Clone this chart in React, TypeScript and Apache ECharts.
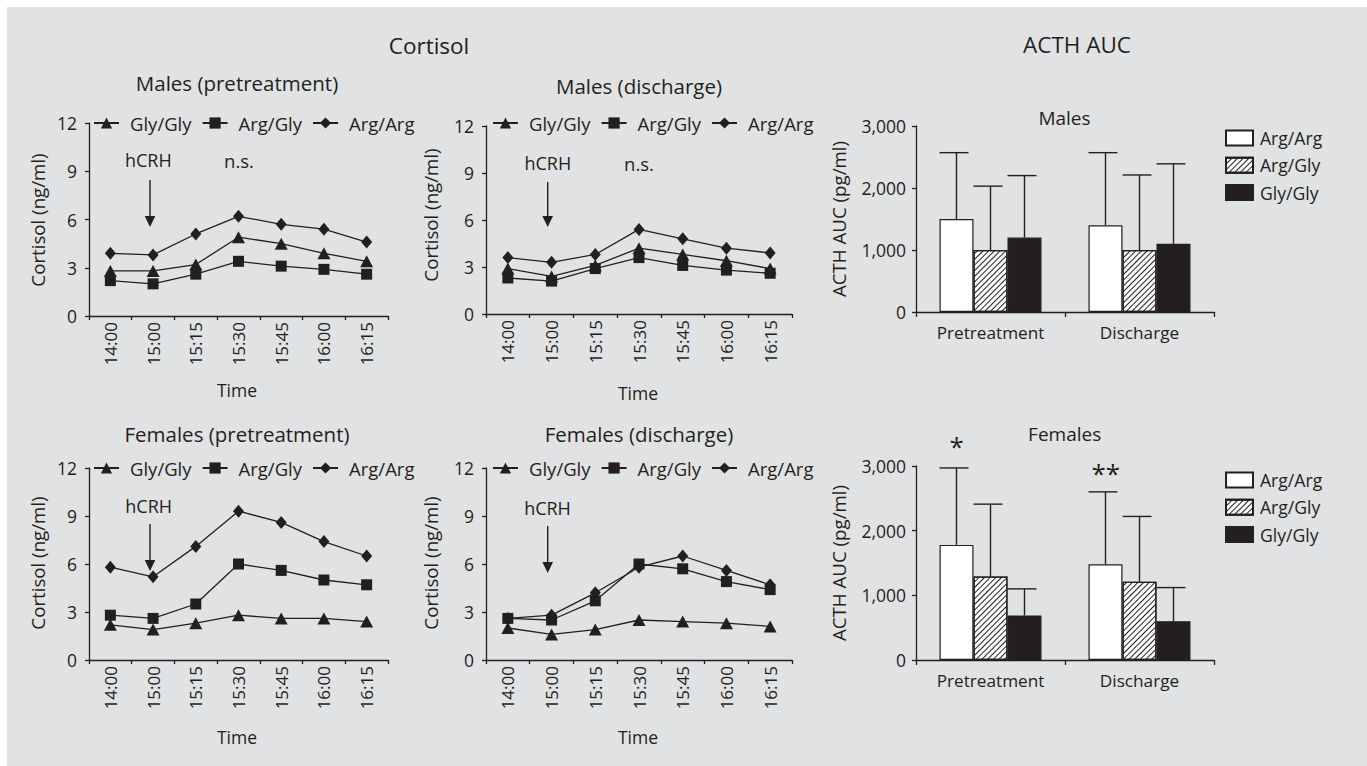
import React, { useEffect, useRef } from 'react';
import * as echarts from 'echarts';

// ---------- data ----------
const times = ['14:00', '15:00', '15:15', '15:30', '15:45', '16:00', '16:15'];
const genotypes = ['Gly/Gly', 'Arg/Gly', 'Arg/Arg'];

const malesPreGlyGly = [2.8, 2.8, 3.2, 4.9, 4.5, 3.9, 3.4];
const malesPreArgGly = [2.2, 2.0, 2.6, 3.4, 3.1, 2.9, 2.6];
const malesPreArgArg = [3.9, 3.8, 5.1, 6.2, 5.7, 5.4, 4.6];

const malesDisGlyGly = [2.9, 2.4, 3.1, 4.2, 3.8, 3.4, 2.9];
const malesDisArgGly = [2.3, 2.1, 2.9, 3.6, 3.1, 2.8, 2.6];
const malesDisArgArg = [3.6, 3.3, 3.8, 5.4, 4.8, 4.2, 3.9];

const femalesPreGlyGly = [2.2, 1.9, 2.3, 2.8, 2.6, 2.6, 2.4];
const femalesPreArgGly = [2.8, 2.6, 3.5, 6.0, 5.6, 5.0, 4.7];
const femalesPreArgArg = [5.8, 5.2, 7.1, 9.3, 8.6, 7.4, 6.5];

const femalesDisGlyGly = [2.0, 1.6, 1.9, 2.5, 2.4, 2.3, 2.1];
const femalesDisArgGly = [2.6, 2.5, 3.7, 6.0, 5.7, 4.9, 4.4];
const femalesDisArgArg = [2.6, 2.8, 4.2, 5.8, 6.5, 5.6, 4.7];

const cortisolTicks = [0, 3, 6, 9, 12];

const acthGroups = ['Pretreatment', 'Discharge'];
const barGenotypes = ['Arg/Arg', 'Arg/Gly', 'Gly/Gly'];

const malesActhArgArg = [1500, 1400];
const malesActhArgArgUpper = [2570, 2570];
const malesActhArgGly = [1000, 1000];
const malesActhArgGlyUpper = [2030, 2210];
const malesActhGlyGly = [1200, 1100];
const malesActhGlyGlyUpper = [2200, 2390];

const femalesActhArgArg = [1780, 1480];
const femalesActhArgArgUpper = [2970, 2600];
const femalesActhArgGly = [1290, 1210];
const femalesActhArgGlyUpper = [2410, 2220];
const femalesActhGlyGly = [690, 600];
const femalesActhGlyGlyUpper = [1100, 1120];

const acthTicks = [0, 1000, 2000, 3000];

// ---------- styling ----------
const INK = '#231f20';
const FONT = "'Open Sans', sans-serif";
const BAR_W = 34;

const lineGrids = [
  { left: 89, top: 123, width: 299, height: 193 },
  { left: 486, top: 126, width: 306, height: 188 },
  { left: 89, top: 468, width: 299, height: 192 },
  { left: 486, top: 468, width: 306, height: 192 },
];
const barGrids = [
  { left: 916, top: 126, width: 298, height: 186 },
  { left: 916, top: 466, width: 298, height: 194 },
];

const symbols: Record<string, any> = {
  'Gly/Gly': { symbol: 'triangle', symbolSize: [13, 12] },
  'Arg/Gly': { symbol: 'rect', symbolSize: 11 },
  'Arg/Arg': { symbol: 'diamond', symbolSize: [11, 13] },
};

function buildOption() {
  const grids: any[] = [];
  const xAxes: any[] = [];
  const yAxes: any[] = [];
  const series: any[] = [];
  const legends: any[] = [];

  const lineData = [
    [malesPreGlyGly, malesPreArgGly, malesPreArgArg],
    [malesDisGlyGly, malesDisArgGly, malesDisArgArg],
    [femalesPreGlyGly, femalesPreArgGly, femalesPreArgArg],
    [femalesDisGlyGly, femalesDisArgGly, femalesDisArgArg],
  ];
  const legendLeft = [93, 492, 93, 492];
  const legendTop = [113, 113, 458, 458];

  lineGrids.forEach((g, i) => {
    grids.push({ ...g, containLabel: false, outerBoundsMode: 'none' });
    xAxes.push({
      type: 'category',
      gridIndex: i,
      data: times,
      boundaryGap: true,
      axisLine: { lineStyle: { color: INK, width: 1.3 } },
      axisTick: { show: true, length: 4, lineStyle: { color: INK, width: 1.3 } },
      axisLabel: { rotate: 90, margin: 6, color: INK, fontSize: 17, fontFamily: FONT },
      splitLine: { show: false },
    });
    yAxes.push({
      type: 'value',
      gridIndex: i,
      min: cortisolTicks[0],
      max: cortisolTicks[cortisolTicks.length - 1],
      interval: 3,
      axisLine: { show: true, lineStyle: { color: INK, width: 1.3 } },
      axisTick: { show: true, length: 4, lineStyle: { color: INK, width: 1.3 } },
      axisLabel: { margin: 12, color: INK, fontSize: 17.5, fontFamily: FONT },
      splitLine: { show: false },
    });
    genotypes.forEach((name, k) => {
      series.push({
        type: 'line',
        name,
        xAxisIndex: i,
        yAxisIndex: i,
        data: lineData[i][k],
        ...symbols[name],
        showSymbol: true,
        lineStyle: { color: INK, width: 1.3 },
        itemStyle: { color: INK },
        silent: true,
      });
    });
    legends.push({
      left: legendLeft[i],
      top: legendTop[i],
      padding: 0,
      orient: 'horizontal',
      itemWidth: 25,
      itemHeight: 14,
      itemGap: 10,
      data: genotypes,
      selectedMode: false,
      textStyle: { color: INK, fontSize: 18.5, fontFamily: FONT, lineHeight: 20, padding: [0, 0, 0, 6] },
    });
  });

  const hatch = {
    symbol: 'rect',
    symbolSize: 1,
    dashArrayX: [1, 0],
    dashArrayY: [1, 3],
    rotation: -Math.PI / 4,
    color: INK,
  };
  const barStyles: Record<string, any> = {
    'Arg/Arg': { color: '#ffffff', borderColor: INK, borderWidth: 1.2 },
    'Arg/Gly': { color: '#ffffff', borderColor: INK, borderWidth: 1.2, decal: hatch },
    'Gly/Gly': { color: INK, borderColor: INK, borderWidth: 1.2 },
  };
  const barData = [
    [
      [malesActhArgArg, malesActhArgArgUpper],
      [malesActhArgGly, malesActhArgGlyUpper],
      [malesActhGlyGly, malesActhGlyGlyUpper],
    ],
    [
      [femalesActhArgArg, femalesActhArgArgUpper],
      [femalesActhArgGly, femalesActhArgGlyUpper],
      [femalesActhGlyGly, femalesActhGlyGlyUpper],
    ],
  ];
  const barLegendTop = [128, 470];

  barGrids.forEach((g, j) => {
    const gi = lineGrids.length + j;
    grids.push({ ...g, containLabel: false, outerBoundsMode: 'none' });
    xAxes.push({
      type: 'category',
      gridIndex: gi,
      data: acthGroups,
      axisLine: { lineStyle: { color: INK, width: 1.3 } },
      axisTick: { show: true, length: 5, lineStyle: { color: INK, width: 1.3 } },
      axisLabel: { margin: 12, color: INK, fontSize: 17.2, fontFamily: FONT },
      splitLine: { show: false },
    });
    yAxes.push({
      type: 'value',
      gridIndex: gi,
      min: acthTicks[0],
      max: acthTicks[acthTicks.length - 1],
      interval: 1000,
      axisLine: { show: true, lineStyle: { color: INK, width: 1.3 } },
      axisTick: { show: true, length: 4, lineStyle: { color: INK, width: 1.3 } },
      axisLabel: {
        margin: 10,
        color: INK,
        fontSize: 17.5,
        fontFamily: FONT,
        formatter: (v: number) => v.toLocaleString('en-US'),
      },
      splitLine: { show: false },
    });
    barGenotypes.forEach((name, k) => {
      series.push({
        type: 'bar',
        name: 'bar:' + name,
        xAxisIndex: gi,
        yAxisIndex: gi,
        data: barData[j][k][0],
        barWidth: BAR_W,
        barGap: '0%',
        itemStyle: barStyles[name],
        silent: true,
      });
    });
    barGenotypes.forEach((name, k) => {
      const offset = (k - 1) * BAR_W;
      const means = barData[j][k][0];
      const uppers = barData[j][k][1];
      series.push({
        type: 'custom',
        name: 'err:' + name,
        xAxisIndex: gi,
        yAxisIndex: gi,
        z: 5,
        silent: true,
        data: means.map((m: number, idx: number) => [idx, m, uppers[idx]]),
        renderItem: (_p: any, api: any) => {
          const base = api.coord([api.value(0), api.value(1)]);
          const top = api.coord([api.value(0), api.value(2)]);
          const x = base[0] + offset;
          return {
            type: 'group',
            children: [
              { type: 'line', shape: { x1: x, y1: base[1], x2: x, y2: top[1] }, style: { stroke: INK, lineWidth: 1.4 } },
              { type: 'line', shape: { x1: x - 17, y1: top[1], x2: x + 12, y2: top[1] }, style: { stroke: INK, lineWidth: 1.4 } },
            ],
          };
        },
      });
    });
    legends.push({
      left: 1225,
      top: barLegendTop[j],
      padding: 0,
      orient: 'vertical',
      icon: 'rect',
      itemWidth: 27,
      itemHeight: 15,
      itemGap: 7.3,
      selectedMode: false,
      data: barGenotypes.map((n) => 'bar:' + n),
      formatter: (n: string) => n.replace('bar:', ''),
      textStyle: { color: INK, fontSize: 17.6, fontFamily: FONT, lineHeight: 20, padding: [0, 0, 0, 2] },
    });
  });

  const txt = (text: string, x: number, y: number, size: number, rotation = 0) => ({
    type: 'text',
    x,
    y,
    rotation,
    silent: true,
    style: { text, fill: INK, fontSize: size, fontFamily: FONT, textAlign: 'center', textVerticalAlign: 'middle' },
  });
  const arrow = (x: number, y1: number, tip: number) => ([
    { type: 'line', silent: true, shape: { x1: x, y1, x2: x, y2: tip - 10 }, style: { stroke: INK, lineWidth: 1.4 } },
    { type: 'polygon', silent: true, shape: { points: [[x - 5.3, tip - 11], [x + 5.3, tip - 11], [x, tip]] }, style: { fill: INK } },
  ]);

  const graphic: any[] = [
    txt('Cortisol', 429, 45, 22.5),
    txt('ACTH AUC', 1077, 44, 22.5),
    txt('Males (pretreatment)', 237, 83, 20.5),
    txt('Males (discharge)', 639, 86, 20.5),
    txt('Females (pretreatment)', 237, 434, 20.5),
    txt('Females (discharge)', 639, 434, 20.5),
    txt('Males', 1064.5, 118, 19),
    txt('Females', 1064.7, 434, 19),
    txt('hCRH', 148.3, 160, 18),
    txt('hCRH', 547.8, 163, 18),
    txt('hCRH', 148.7, 506, 18),
    txt('hCRH', 547.5, 508, 18),
    txt('n.s.', 239, 160, 18.5),
    txt('n.s.', 639, 163, 18.5),
    txt('Time', 237, 390, 17.5),
    txt('Time', 638, 393, 17.5),
    txt('Time', 237, 737, 17.5),
    txt('Time', 638, 737, 17.5),
    txt('Cortisol (ng/ml)', 37, 220, 18.7, Math.PI / 2),
    txt('Cortisol (ng/ml)', 430, 215, 18.7, Math.PI / 2),
    txt('Cortisol (ng/ml)', 37, 563, 18.7, Math.PI / 2),
    txt('Cortisol (ng/ml)', 430, 563, 18.7, Math.PI / 2),
    txt('ACTH AUC (pg/ml)', 838, 219, 18.7, Math.PI / 2),
    txt('ACTH AUC (pg/ml)', 838, 563, 18.7, Math.PI / 2),
    txt('*', 956.7, 446, 26),
    txt('**', 1105.7, 473, 26),
    ...arrow(150, 180, 227),
    ...arrow(547.7, 182, 227),
    ...arrow(150, 524, 571),
    ...arrow(547.7, 526, 573),
  ];

  return {
    animation: false,
    backgroundColor: 'transparent',
    textStyle: { fontFamily: FONT, color: INK },
    grid: grids,
    xAxis: xAxes,
    yAxis: yAxes,
    legend: legends,
    series,
    graphic: { elements: graphic },
  };
}

export default function App() {
  const ref = useRef<HTMLDivElement>(null);
  useEffect(() => {
    if (!ref.current) return;
    const chart = echarts.init(ref.current, null, { renderer: 'svg' });
    chart.setOption(buildOption() as any);
    return () => {
      chart.dispose();
    };
  }, []);
  return (
    <div style={{ position: 'absolute', left: 0, top: 0, width: 1367, height: 766, background: '#ffffff', overflow: 'hidden' }}>
      <div style={{ position: 'absolute', left: 7, top: 7, right: 0, bottom: 0, background: '#e1e2e3' }} />
      <div ref={ref} style={{ position: 'absolute', left: 0, top: 0, width: 1367, height: 766 }} />
    </div>
  );
}
